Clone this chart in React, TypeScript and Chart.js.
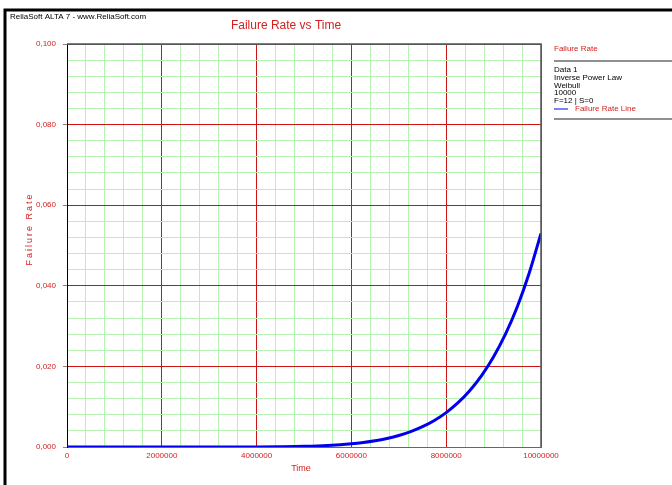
import React, { useEffect, useRef } from "react";
import { Chart, registerables } from "chart.js";

Chart.register(...registerables);

const timeValues = [
  0, 500000, 1000000, 1500000, 2000000, 2500000, 3000000, 3500000, 4000000,
  4500000, 5000000, 5500000, 6000000, 6250000, 6500000, 6750000, 7000000,
  7250000, 7500000, 7750000, 8000000, 8250000, 8500000, 8750000, 9000000,
  9250000, 9500000, 9750000, 10000000,
];
const failureRate = [
  0, 0, 0, 0, 0, 0, 0.000003, 0.00001, 0.00003, 0.00008, 0.00018, 0.0004,
  0.00081, 0.00113, 0.00156, 0.00213, 0.00286, 0.00382, 0.00504, 0.00659,
  0.00854, 0.01099, 0.01403, 0.01778, 0.02239, 0.028, 0.0348, 0.0431, 0.053,
];
const legendInfo = ["Data 1", "Inverse Power Law", "Weibull", "10000", "F=12 | S=0"];
const headerText = "ReliaSoft ALTA 7 - www.ReliaSoft.com";
const chartTitle = "Failure Rate vs Time";
const xTitle = "Time";
const yTitle = "Failure Rate";
const seriesName = "Failure Rate Line";
const legendTitle = "Failure Rate";

const FONT = "'Liberation Sans', Arial, sans-serif";
const RED = "#d42020";
const GRID_RED = "#cc1414";
const GRID_GREEN = "#b6f2b0";

const decorPlugin = {
  id: "decor",
  afterDraw(chart: any) {
    const ctx = chart.ctx as CanvasRenderingContext2D;
    const a = chart.chartArea;
    ctx.save();
    // outer frame
    ctx.strokeStyle = "#000";
    ctx.lineWidth = 3;
    ctx.beginPath();
    ctx.moveTo(5, 485);
    ctx.lineTo(5, 10);
    ctx.lineTo(672, 10);
    ctx.stroke();
    // plot border top/right
    ctx.strokeStyle = "#555";
    ctx.lineWidth = 1.5;
    ctx.beginPath();
    ctx.moveTo(a.left, a.top);
    ctx.lineTo(a.right, a.top);
    ctx.lineTo(a.right, a.bottom);
    ctx.stroke();
    // header
    ctx.fillStyle = "#000";
    ctx.font = `8px ${FONT}`;
    ctx.textBaseline = "middle";
    ctx.textAlign = "left";
    ctx.fillText(headerText, 10, 17);
    // title
    ctx.fillStyle = RED;
    ctx.font = `12px ${FONT}`;
    ctx.textAlign = "center";
    ctx.fillText(chartTitle, 286, 26);
    // x title
    ctx.font = `9px ${FONT}`;
    ctx.fillText(xTitle, 301, 469);
    // y title
    ctx.save();
    ctx.translate(30, 229);
    ctx.rotate(-Math.PI / 2);
    (ctx as any).letterSpacing = "2px";
    ctx.font = `9px ${FONT}`;
    ctx.textAlign = "center";
    ctx.fillText(yTitle, 0, 0);
    ctx.restore();
    // legend
    ctx.textAlign = "left";
    ctx.font = `8px ${FONT}`;
    ctx.fillStyle = RED;
    ctx.fillText(legendTitle, 554, 49);
    ctx.strokeStyle = "#222";
    ctx.lineWidth = 1.2;
    ctx.beginPath();
    ctx.moveTo(554, 61);
    ctx.lineTo(672, 61);
    ctx.moveTo(554, 119);
    ctx.lineTo(672, 119);
    ctx.stroke();
    ctx.fillStyle = "#000";
    legendInfo.forEach((t, i) => {
      ctx.fillText(t, 554, 69.5 + i * 7.9);
    });
    const ly = 69.5 + legendInfo.length * 7.9;
    ctx.strokeStyle = "#0000ee";
    ctx.lineWidth = 1;
    ctx.beginPath();
    ctx.moveTo(554, ly);
    ctx.lineTo(568, ly);
    ctx.stroke();
    ctx.fillStyle = RED;
    ctx.fillText(seriesName, 575, ly);
    ctx.restore();
  },
};

const isMajor = (v: number, step: number, every: number) =>
  Math.round(v / step) % every === 0;

export default function App() {
  const ref = useRef<HTMLCanvasElement>(null);
  useEffect(() => {
    document.body.style.margin = "0";
    const canvas = ref.current!;
    const chart = new Chart(canvas, {
      type: "line",
      data: {
        datasets: [
          {
            label: seriesName,
            data: timeValues.map((t, i) => ({ x: t, y: failureRate[i] })),
            borderColor: "#0000ee",
            borderWidth: 3,
            pointRadius: 0,
            cubicInterpolationMode: "monotone",
            fill: false,
          },
        ],
      },
      options: {
        animation: false,
        responsive: false,
        devicePixelRatio: 1,
        layout: { padding: { top: 44, right: 131, left: 0, bottom: 0 } },
        plugins: { legend: { display: false }, title: { display: false }, tooltip: { enabled: false } },
        scales: {
          x: {
            type: "linear",
            min: 0,
            max: 10000000,
            afterFit: (s: any) => {
              s.height = 38;
            },
            border: { color: "#666", width: 1 },
            grid: {
              drawTicks: false,
              color: (c: any) => {
                const v = c.tick ? c.tick.value : 0;
                if (v >= 10000000) return "#666";
                if (v === 0) return "#000";
                return isMajor(v, 400000, 5) ? GRID_RED : GRID_GREEN;
              },
              lineWidth: 1,
            },
            ticks: {
              stepSize: 400000,
              autoSkip: false,
              maxRotation: 0,
              padding: 4,
              color: RED,
              font: { family: FONT, size: 8 },
              callback: (v: any) => (isMajor(Number(v), 400000, 5) ? String(v) : ""),
            },
          },
          y: {
            type: "linear",
            min: 0,
            max: 0.1,
            afterFit: (s: any) => {
              s.width = 67;
            },
            border: { color: "#000", width: 1 },
            grid: {
              tickLength: 4,
              color: (c: any) => {
                const v = c.tick ? c.tick.value : 0;
                if (v >= 0.0999) return "#555";
                return isMajor(v, 0.004, 5) ? GRID_RED : GRID_GREEN;
              },
              tickColor: (c: any) => {
                const v = c.tick ? c.tick.value : 0;
                return isMajor(v, 0.004, 5) ? "#888" : "rgba(0,0,0,0)";
              },
              lineWidth: 1,
            },
            ticks: {
              stepSize: 0.004,
              autoSkip: false,
              padding: 7,
              color: RED,
              font: { family: FONT, size: 8 },
              callback: (v: any) =>
                isMajor(Number(v), 0.004, 5) ? Number(v).toFixed(3).replace(".", ",") : "",
            },
          },
        },
      } as any,
      plugins: [decorPlugin],
    });
    return () => chart.destroy();
  }, []);
  return (
    <div style={{ position: "absolute", left: 0, top: 0, width: 672, height: 485, background: "#fff" }}>
      <canvas ref={ref} width={672} height={485} style={{ display: "block", width: 672, height: 485 }} />
    </div>
  );
}
